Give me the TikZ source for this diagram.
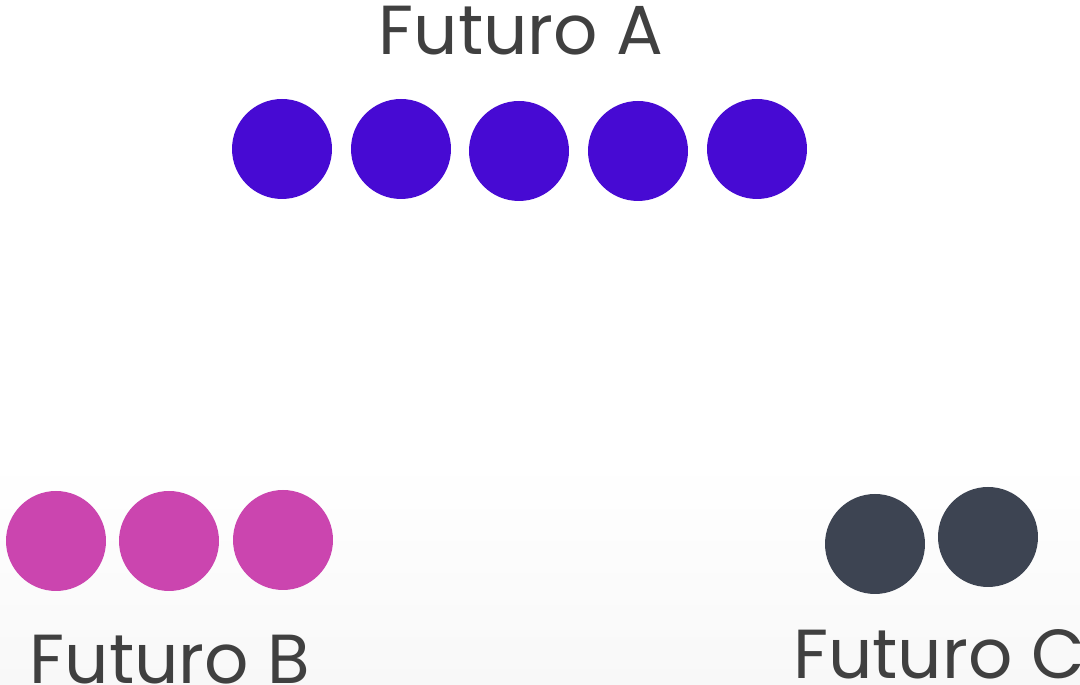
\documentclass[tikz,border=0pt]{standalone}
\usepackage{fontspec}
\setmainfont{Poppins}
\definecolor{cA}{HTML}{470AD3}
\definecolor{cB}{HTML}{CB45AF}
\definecolor{cC}{HTML}{3D4452}
\definecolor{txt}{HTML}{404040}
\definecolor{bgbot}{HTML}{F8F8F8}
\begin{document}
\begin{tikzpicture}[x=0.02cm,y=0.02cm,
  dot/.style={circle,minimum size=2cm,inner sep=0pt},
  lbl/.style={text=txt,font=\fontsize{39.5}{44}\selectfont,anchor=base,inner sep=0pt}]
\useasboundingbox (0,0) rectangle (1080,685);
\fill[white] (0,225) rectangle (1080,685);
\shade[top color=white,bottom color=bgbot] (0,0) rectangle (1080,225);
\node[lbl] (la) at (521,630) {Futuro A};
\node[dot,fill=cA] (a1) at (282,536) {};
\node[dot,fill=cA] (a2) at (401,536) {};
\node[dot,fill=cA] (a3) at (519,534) {};
\node[dot,fill=cA] (a4) at (638,534) {};
\node[dot,fill=cA] (a5) at (757,536) {};
\node[dot,fill=cB] (b1) at (56,144) {};
\node[dot,fill=cB] (b2) at (169,144) {};
\node[dot,fill=cB] (b3) at (283,145) {};
\node[dot,fill=cC] (c1) at (875,141) {};
\node[dot,fill=cC] (c2) at (988,148) {};
\node[lbl] (lb) at (170,1) {Futuro B};
\node[lbl] (lc) at (939,6) {Futuro C};
\end{tikzpicture}
\end{document}
